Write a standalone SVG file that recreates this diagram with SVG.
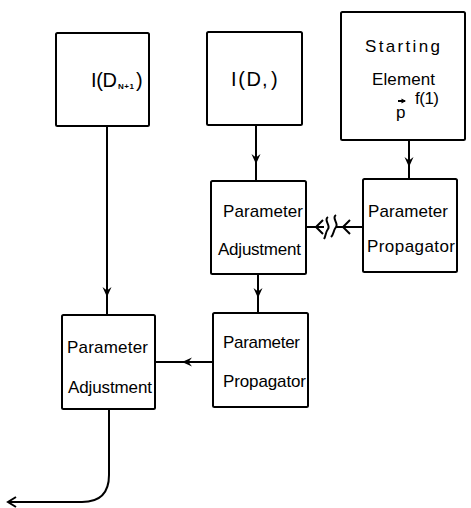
<svg xmlns="http://www.w3.org/2000/svg" width="471" height="508" viewBox="0 0 471 508">
<style>
.box{fill:#fff;stroke:#000;stroke-width:2;}
.ln{fill:none;stroke:#000;stroke-width:2;}
.t{font-family:"Liberation Sans","DejaVu Sans",sans-serif;font-size:17px;fill:#000;}
.big{font-family:"Liberation Sans","DejaVu Sans",sans-serif;font-size:20px;fill:#000;}
.sub{font-family:"Liberation Sans","DejaVu Sans",sans-serif;font-size:8px;font-weight:bold;fill:#000;}
</style>
<defs>
<path id="ah" d="M0,0 L-4.5,-10 L0,-6.5 L4.5,-10 Z" fill="#000"/>
</defs>
<rect width="471" height="508" fill="#fff"/>
<g id="connectors">
<line class="ln" x1="107" y1="126" x2="107" y2="315"/>
<use href="#ah" transform="translate(107,297)"/>
<line class="ln" x1="256" y1="125" x2="256" y2="181"/>
<use href="#ah" transform="translate(256,164)"/>
<line class="ln" x1="409" y1="140" x2="409" y2="179"/>
<use href="#ah" transform="translate(409,167)"/>
<line class="ln" x1="258" y1="274" x2="258" y2="313"/>
<use href="#ah" transform="translate(258,298)"/>
<line class="ln" x1="213" y1="362" x2="155" y2="362"/>
<use href="#ah" transform="translate(182,362) rotate(90)"/>
<line class="ln" x1="306" y1="227" x2="324" y2="227"/>
<line class="ln" x1="336" y1="227" x2="363" y2="227"/>
<path class="ln" d="M323,220 L316,227 L323,234"/>
<path class="ln" d="M350,220 L343,227 L350,234"/>
<path class="ln" d="M328,217 C323,220 331,225 328,229 C325,233 326,236 324,239"/>
<path class="ln" d="M336,215 C331,218 339,223 336,227 C333,231 334,234 331,237"/>
<path class="ln" d="M109,409 L109,475 Q109,502 82,502 L8,502"/>
<path class="ln" d="M16,497 L8,502 L16,507"/>
</g>
<g id="n1">
<rect class="box" x="56" y="33" width="93" height="93" rx="1.5"/>
<text class="big" x="91" y="87" textLength="26">I(D</text>
<text class="sub" x="118" y="89" textLength="16">N+1</text>
<text class="big" x="136" y="87">)</text>
</g>
<g id="n2">
<rect class="box" x="207" y="32" width="95" height="93" rx="1.5"/>
<text class="big" x="231" y="86" textLength="30">I(D</text>
<text class="big" x="262" y="86" font-size="14">,</text>
<text class="big" x="271" y="86">)</text>
</g>
<g id="n3">
<rect class="box" x="341" y="12" width="124" height="128" rx="1.5"/>
<text class="t" x="365" y="52" font-size="19" textLength="75">Starting</text>
<text class="t" x="372" y="85" font-size="17" textLength="63">Element</text>
<line class="ln" x1="398" y1="101" x2="405" y2="101" stroke-width="1.5"/>
<path d="M406,101 L401.5,98.5 L401.5,103.5 Z" fill="#000"/>
<text class="t" x="396" y="118" font-size="18">p</text>
<text class="t" x="415" y="104" font-size="10" textLength="24">f(1)</text>
</g>
<g id="n4">
<rect class="box" x="211" y="181" width="95" height="93" rx="1.5"/>
<text class="t" x="223" y="217" textLength="80">Parameter</text>
<text class="t" x="218" y="255" textLength="83">Adjustment</text>
</g>
<g id="n5">
<rect class="box" x="363" y="179" width="94" height="93" rx="1.5"/>
<text class="t" x="368" y="217" textLength="80">Parameter</text>
<text class="t" x="367" y="252" textLength="88">Propagator</text>
</g>
<g id="n6">
<rect class="box" x="62" y="315" width="93" height="94" rx="1.5"/>
<text class="t" x="67" y="353" textLength="81">Parameter</text>
<text class="t" x="68" y="393" textLength="84">Adjustment</text>
</g>
<g id="n7">
<rect class="box" x="213" y="313" width="95" height="94" rx="1.5"/>
<text class="t" x="223" y="348" textLength="77">Parameter</text>
<text class="t" x="223" y="387" textLength="83">Propagator</text>
</g>
</svg>
